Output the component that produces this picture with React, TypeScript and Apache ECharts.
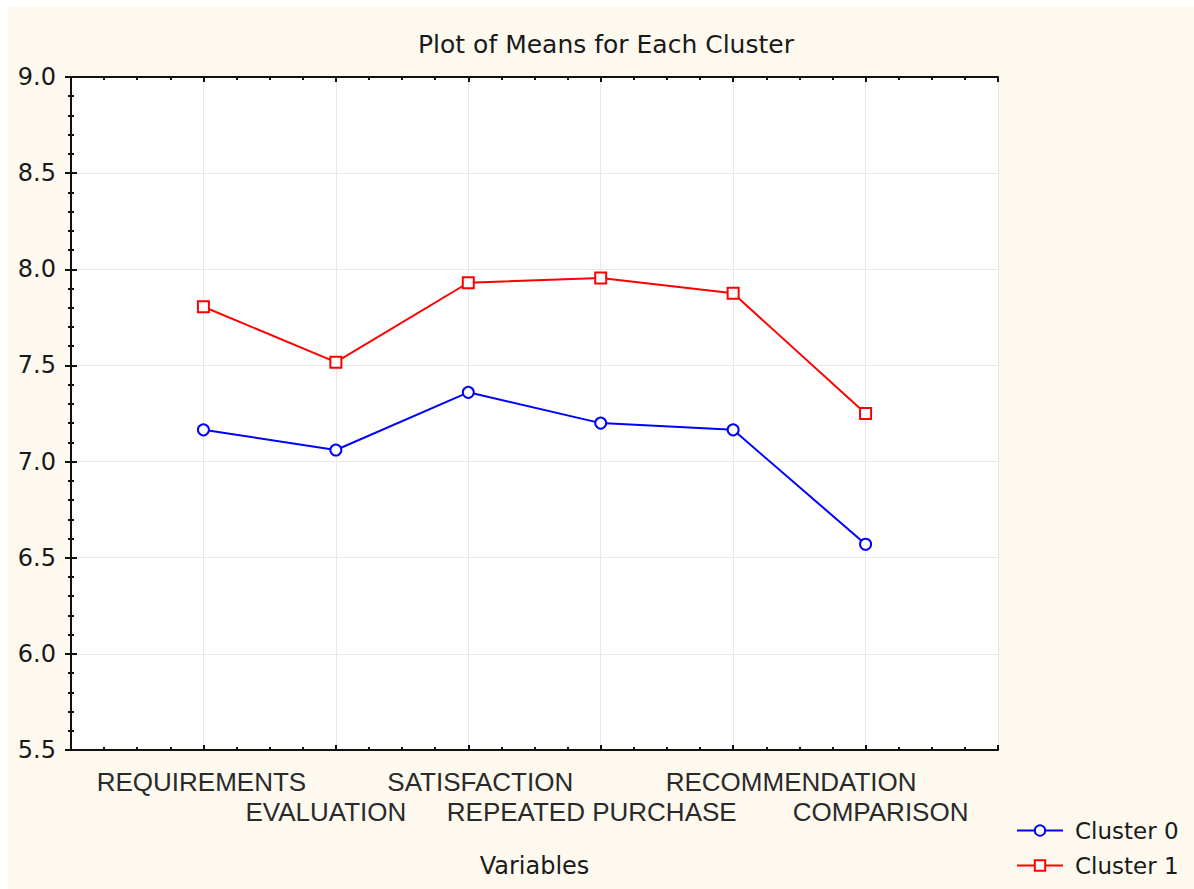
import React, { useEffect, useRef } from "react";
import * as echarts from "echarts";

const categories = [
  "REQUIREMENTS",
  "EVALUATION",
  "SATISFACTION",
  "REPEATED PURCHASE",
  "RECOMMENDATION",
  "COMPARISON",
];
const cluster0 = [7.165, 7.06, 7.36, 7.2, 7.165, 6.57];
const cluster1 = [7.805, 7.517, 7.93, 7.955, 7.875, 7.25];
const yTicks = { min: 5.5, max: 9.0, interval: 0.5 };

// horizontal offset (px) of each category label's centre from its tick, as in the reference
const labelShift = [-2, -10, 12, -9, 58, 15];

const FONT = "DejaVu Sans";
const LABEL_FONT = "Liberation Sans";

export default function App() {
  const ref = useRef<HTMLDivElement>(null);
  useEffect(() => {
    if (!ref.current) return;
    const chart = echarts.init(ref.current, undefined, { renderer: "svg" });
    const xMax = categories.length + 1;
    const axisLine = { show: true, lineStyle: { color: "#111", width: 2 } };
    const xCommon = {
      type: "value" as const,
      min: 0,
      max: xMax,
      interval: 1,
      axisLine,
      axisTick: { show: true, inside: true, length: 5, lineStyle: { color: "#111", width: 2 } },
      minorTick: { show: true, splitNumber: 4, length: 3, lineStyle: { color: "#111", width: 2 } },
    };
    const yCommon = {
      type: "value" as const,
      min: yTicks.min,
      max: yTicks.max,
      interval: yTicks.interval,
      axisLine,
      axisTick: { show: true, inside: true, length: 6, lineStyle: { color: "#111", width: 2 } },
      minorTick: { show: true, splitNumber: 5, length: 3, lineStyle: { color: "#111", width: 2 } },
    };
    const rich: Record<string, any> = {};
    labelShift.forEach((d, i) => {
      rich["c" + i] = {
        fontFamily: LABEL_FONT,
        fontSize: 26,
        color: "#2a2a2a",
        lineHeight: 30,
        padding: d >= 0 ? [0, 0, 0, 2 * d] : [0, -2 * d, 0, 0],
      };
    });
    chart.setOption({
      animation: false,
      backgroundColor: "#fdf9ef",
      title: {
        text: "Plot of Means for Each Cluster",
        left: 593,
        top: 21,
        textAlign: "center",
        textStyle: { fontFamily: FONT, fontSize: 25, fontWeight: "normal", color: "#1a1a1a" },
      },
      grid: {
        left: 63,
        right: 196,
        top: 71,
        bottom: 139,
        show: true,
        backgroundColor: "#ffffff",
        borderWidth: 0,
        containLabel: false,
      },
      legend: {
        orient: "vertical",
        left: 1003,
        top: 808,
        itemWidth: 46,
        itemHeight: 13,
        itemGap: 12,
        textStyle: { fontFamily: FONT, fontSize: 23, color: "#1a1a1a", lineHeight: 23, padding: [0, 0, 0, 7] },
        data: ["Cluster 0", "Cluster 1"],
      },
      xAxis: [
        {
          ...xCommon,
          position: "bottom",
          name: "Variables",
          nameLocation: "middle",
          nameGap: 104,
          nameTextStyle: { fontFamily: FONT, fontSize: 24, color: "#1a1a1a" },
          splitLine: { show: true, lineStyle: { color: "#e8e8e8", width: 1 } },
          axisLabel: {
            show: true,
            margin: 17,
            fontFamily: LABEL_FONT,
            fontSize: 26,
            color: "#2a2a2a",
            lineHeight: 30,
            rich,
            formatter: (v: number) => {
              const i = Math.round(v);
              if (i < 1 || i > categories.length) return "";
              const t = "{c" + (i - 1) + "|" + categories[i - 1] + "}";
              return i % 2 === 1 ? t : "\n" + t;
            },
          },
        },
        {
          ...xCommon,
          position: "top",
          splitLine: { show: false },
          axisLabel: { show: false },
        },
      ],
      yAxis: [
        {
          ...yCommon,
          position: "left",
          splitLine: { show: true, lineStyle: { color: "#e8e8e8", width: 1 } },
          axisLabel: {
            show: true,
            margin: 15,
            fontFamily: FONT,
            fontSize: 24,
            color: "#1a1a1a",
            formatter: (v: number) => v.toFixed(1),
          },
        },
        {
          ...yCommon,
          position: "right",
          splitLine: { show: false },
          axisLabel: { show: false },
        },
      ],
      series: [
        {
          name: "Cluster 0",
          type: "line",
          data: cluster0.map((v, i) => [i + 1, v]),
          symbol: "emptyCircle",
          symbolSize: 11,
          lineStyle: { color: "#0000ff", width: 2 },
          itemStyle: { color: "#0000ff", borderColor: "#0000ff", borderWidth: 2 },
        },
        {
          name: "Cluster 1",
          type: "line",
          data: cluster1.map((v, i) => [i + 1, v]),
          symbol: "emptyRect",
          symbolSize: 11,
          lineStyle: { color: "#ff0000", width: 2 },
          itemStyle: { color: "#ff0000", borderColor: "#ff0000", borderWidth: 2 },
        },
      ],
    });
    return () => chart.dispose();
  }, []);
  return (
    <div style={{ position: "fixed", left: 0, top: 0, width: 1194, height: 889, background: "#ffffff" }}>
      <div ref={ref} style={{ position: "absolute", left: 8, top: 6, width: 1186, height: 883 }} />
    </div>
  );
}
